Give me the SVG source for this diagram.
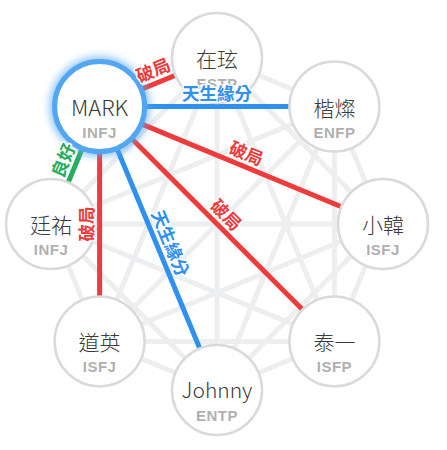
<svg xmlns="http://www.w3.org/2000/svg" width="447" height="450" viewBox="0 0 447 450">
<defs>
<filter id="glow" x="-50%" y="-50%" width="200%" height="200%">
<feGaussianBlur stdDeviation="4"/>
</filter>
<style>
.bg{stroke:#eceef0;stroke-width:5;fill:none}
.red{stroke:#ef3b3b;stroke-width:5}
.blue{stroke:#2f90f0;stroke-width:5}
.green{stroke:#27ae5c;stroke-width:5}
.node{fill:#fff;stroke:#dadada;stroke-width:2.5}
.name{font-family:"Noto Sans CJK TC","Noto Sans",sans-serif;font-weight:300;font-size:21px;fill:#3a3a3a;text-anchor:middle}
.mbti{font-family:"Liberation Sans",Arial,sans-serif;font-weight:bold;font-size:15px;fill:#b0b0b0;text-anchor:middle;letter-spacing:0.5px}
.lbl{font-family:"Noto Sans CJK TC",sans-serif;font-weight:bold;font-size:17.5px;text-anchor:middle;dominant-baseline:central;stroke:#fff;stroke-width:3;paint-order:stroke;stroke-linejoin:round}
.lr{fill:#ef3b3b}.lb{fill:#2f90f0}.lg{fill:#27ae5c}
</style>
</defs>
<rect width="447" height="450" fill="#fff"/>
<g id="connectors">
<g class="bg">
<line x1="217" y1="58" x2="334.4" y2="106.6"/>
<line x1="217" y1="58" x2="383" y2="224"/>
<line x1="217" y1="58" x2="334.4" y2="341.4"/>
<line x1="217" y1="58" x2="217" y2="390"/>
<line x1="217" y1="58" x2="99.6" y2="341.4"/>
<line x1="217" y1="58" x2="51" y2="224"/>
<line x1="334.4" y1="106.6" x2="383" y2="224"/>
<line x1="334.4" y1="106.6" x2="334.4" y2="341.4"/>
<line x1="334.4" y1="106.6" x2="217" y2="390"/>
<line x1="334.4" y1="106.6" x2="99.6" y2="341.4"/>
<line x1="334.4" y1="106.6" x2="51" y2="224"/>
<line x1="383" y1="224" x2="334.4" y2="341.4"/>
<line x1="383" y1="224" x2="217" y2="390"/>
<line x1="383" y1="224" x2="99.6" y2="341.4"/>
<line x1="383" y1="224" x2="51" y2="224"/>
<line x1="334.4" y1="341.4" x2="217" y2="390"/>
<line x1="334.4" y1="341.4" x2="99.6" y2="341.4"/>
<line x1="334.4" y1="341.4" x2="51" y2="224"/>
<line x1="217" y1="390" x2="99.6" y2="341.4"/>
<line x1="217" y1="390" x2="51" y2="224"/>
<line x1="99.6" y1="341.4" x2="51" y2="224"/>
</g>
<line class="red" x1="99.6" y1="106.6" x2="217" y2="58"/>
<line class="blue" x1="99.6" y1="106.6" x2="334.4" y2="106.6"/>
<line class="red" x1="99.6" y1="106.6" x2="383" y2="224"/>
<line class="red" x1="99.6" y1="106.6" x2="334.4" y2="341.4"/>
<line class="blue" x1="99.6" y1="106.6" x2="217" y2="390"/>
<line class="red" x1="99.6" y1="106.6" x2="99.6" y2="341.4"/>
<line class="green" x1="99.6" y1="106.6" x2="51" y2="224"/>
</g>
<g id="n-zaixuan"><circle class="node" cx="217" cy="58" r="45"/><text class="name" x="217" y="67">在玹</text><text class="mbti" x="217" y="89">ESTP</text></g>
<g id="n-kaican"><circle class="node" cx="334.4" cy="106.6" r="45"/><text class="name" x="334.4" y="115.6">楷燦</text><text class="mbti" x="334.4" y="137.6">ENFP</text></g>
<g id="n-xiaohan"><circle class="node" cx="383" cy="224" r="45"/><text class="name" x="383" y="233">小韓</text><text class="mbti" x="383" y="255">ISFJ</text></g>
<g id="n-taiyi"><circle class="node" cx="334.4" cy="341.4" r="45"/><text class="name" x="334.4" y="350.4">泰一</text><text class="mbti" x="334.4" y="372.4">ISFP</text></g>
<g id="n-johnny"><circle class="node" cx="217" cy="390" r="45"/><text class="name" x="217" y="398">Johnny</text><text class="mbti" x="217" y="421">ENTP</text></g>
<g id="n-daoying"><circle class="node" cx="99.6" cy="341.4" r="45"/><text class="name" x="99.6" y="350.4">道英</text><text class="mbti" x="99.6" y="372.4">ISFJ</text></g>
<g id="n-tingyou"><circle class="node" cx="51" cy="224" r="45"/><text class="name" x="51" y="233">廷祐</text><text class="mbti" x="51" y="255">INFJ</text></g>
<g id="n-mark">
<circle cx="99.6" cy="106.6" r="45" fill="none" stroke="#5aaaf5" stroke-width="9" filter="url(#glow)" opacity="0.8"/>
<circle cx="99.6" cy="106.6" r="45" fill="#fff" stroke="#52a6f2" stroke-width="5"/>
<text class="name" x="99.6" y="115.6" style="font-size:22px">MARK</text><text class="mbti" x="99.6" y="137.6">INFJ</text>
</g>
<g id="labels">
<text class="lbl lr" transform="translate(152.9 69.4) rotate(-22.5)">破局</text>
<text class="lbl lb" transform="translate(217 92.6)">天生緣分</text>
<text class="lbl lr" transform="translate(246.7 152.4) rotate(22.5)">破局</text>
<text class="lbl lr" transform="translate(226.9 214.1) rotate(45)">破局</text>
<text class="lbl lb" transform="translate(171.2 242.9) rotate(67.5)">天生緣分</text>
<text class="lbl lr" transform="translate(85.6 224) rotate(-90)">破局</text>
<text class="lbl lg" transform="translate(62.4 160) rotate(-67.5)">良好</text>
</g>
</svg>
